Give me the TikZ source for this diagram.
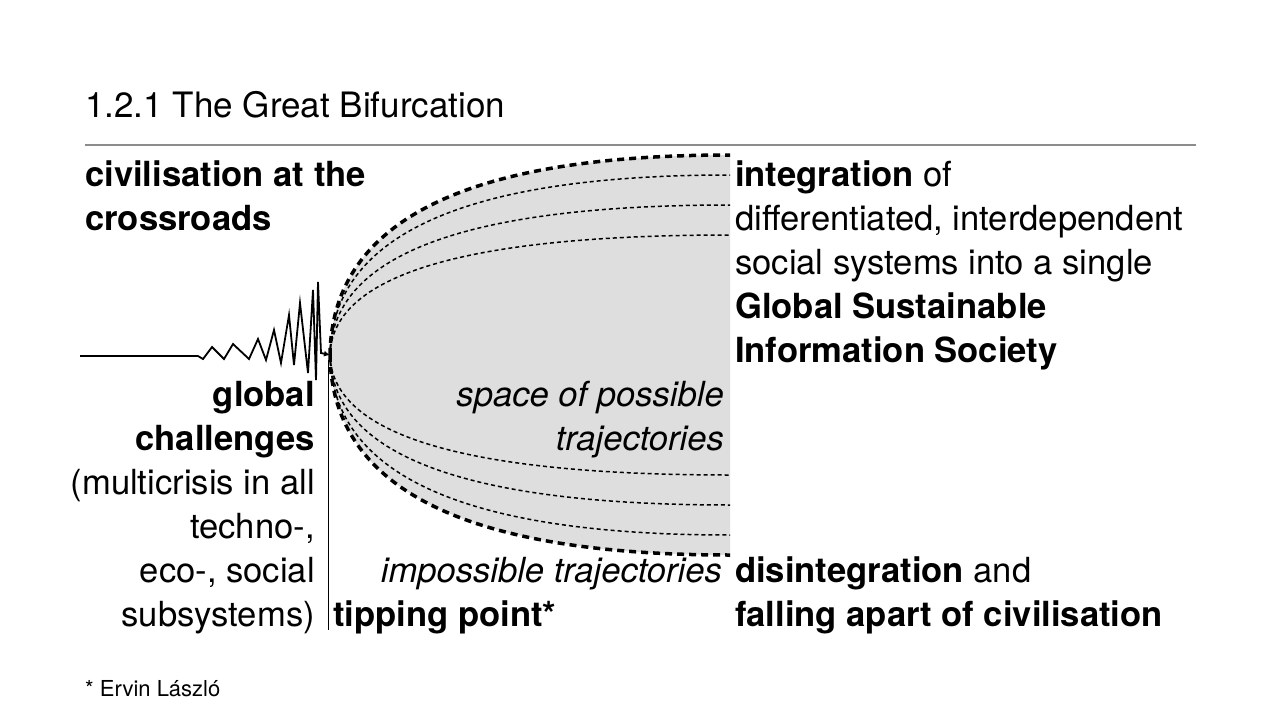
\documentclass[tikz,border=0pt]{standalone}
\usepackage{fontspec}
\setmainfont{TeX Gyre Heros}
\usetikzlibrary{arrows.meta}
\newcommand{\mainsize}{\fontsize{34.6}{44}\selectfont}
\begin{document}
\begin{tikzpicture}[x=1pt,y=-1pt,
  txt/.style={inner sep=0pt, font=\mainsize},
  lft/.style={txt, anchor=base west},
  rgt/.style={txt, anchor=base east},
  boldtxt/.style={font=\mainsize\bfseries},
  ittxt/.style={font=\mainsize\itshape},
  thick dash/.style={line width=3.5pt, dash pattern=on 7pt off 5pt},
  thin dash/.style={line width=1.5pt, dash pattern=on 4pt off 3pt},
  rulestyle/.style={draw=black!45, line width=1.2pt},
  zig/.style={line width=1.8pt, line join=miter},
]
\useasboundingbox (0,0) rectangle (1280,720);
\fill[white] (0,0) rectangle (1280,720);

% title and rule
\node[lft, font=\fontsize{35}{40}\selectfont] (title) at (85,117) {1.2.1 The Great Bifurcation};
\coordinate (r1) at (85,145);
\coordinate (r2) at (1196,145);
\draw[rulestyle] (r1) -- (r2);

% bifurcation region
\coordinate (apex) at (330,355);
\coordinate (tr) at (730,155);
\coordinate (br) at (730,555);
\fill[black!13] (apex) .. controls (332,214) and (480,155) .. (tr)
  -- (br) .. controls (480,555) and (332,496) .. (apex) -- cycle;

% thin trajectories
\foreach \d in {120,150,180}{
  \draw[thin dash] (apex) .. controls (332,355-0.705*\d) and (480,355-\d) .. (730,355-\d);
  \draw[thin dash] (apex) .. controls (332,355+0.705*\d) and (480,355+\d) .. (730,355+\d);
}
% boundary trajectories
\draw[thick dash] (apex) .. controls (332,214) and (480,155) .. (tr);
\draw[thick dash] (apex) .. controls (332,496) and (480,555) .. (br);

% oscillation
\coordinate (z0) at (80,356);
\draw[zig, -{Latex[length=6pt,width=6pt]}] (z0) -- (198,356) -- (203,359) -- (212,347) -- (224,359) -- (233,344)
  -- (249,359) -- (258,339) -- (266,360) -- (274,330) -- (281,363) -- (289,315)
  -- (294,365) -- (300,303) -- (308,373) -- (313,290) -- (316,380) -- (318,282)
  -- (321,353) -- (apex);

% vertical separator
\coordinate (v1) at (328,360);
\coordinate (v2) at (328,630);
\draw[line width=1pt] (v1) -- (v2);

% top left
\node[lft, boldtxt] (c1) at (85,186) {civilisation at the};
\node[lft, boldtxt] (c2) at (85,230) {crossroads};

% right top
\node[lft] (i1) at (735,186) {\textbf{integration} of};
\node[lft] (i2) at (735,230) {differentiated, interdependent};
\node[lft] (i3) at (735,274) {social systems into a single};
\node[lft, boldtxt] (i4) at (735,318) {Global Sustainable};
\node[lft, boldtxt] (i5) at (735,362) {Information Society};

% left bottom
\node[rgt, boldtxt] (g1) at (315,406) {global};
\node[rgt, boldtxt] (g2) at (315,450) {challenges};
\node[rgt] (g3) at (315,494) {(multicrisis in all};
\node[rgt] (g4) at (315,538) {techno-,};
\node[rgt] (g5) at (315,582) {eco-, social};
\node[rgt] (g6) at (315,626) {subsystems)};

% middle
\node[rgt, ittxt] (s1) at (724,406) {space of possible};
\node[rgt, ittxt] (s2) at (724,450) {trajectories};
\node[rgt, ittxt] (imp) at (722,582) {impossible trajectories};
\node[lft, boldtxt] (tp) at (333,626) {tipping point*};

% right bottom
\node[lft] (d1) at (735,582) {\textbf{disintegration} and};
\node[lft, boldtxt] (d2) at (735,626) {falling apart of civilisation};

% footnote
\node[lft, font=\fontsize{22}{26}\selectfont] (fn) at (85,696) {* Ervin László};
\end{tikzpicture}
\end{document}
